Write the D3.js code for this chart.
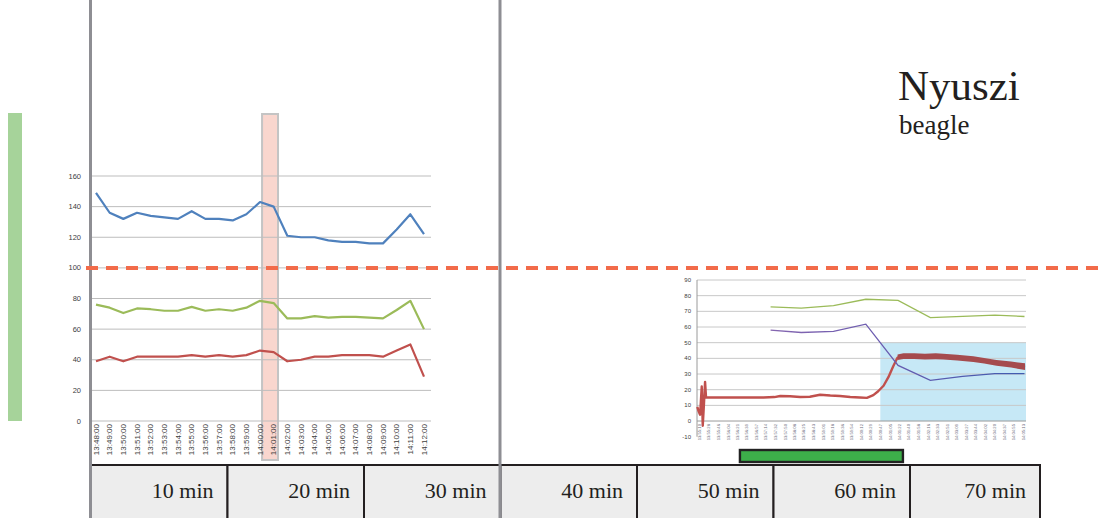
<!DOCTYPE html>
<html><head><meta charset="utf-8">
<script src="https://cdn.jsdelivr.net/npm/d3@7"></script>
<style>html,body{margin:0;padding:0;background:#fff;overflow:hidden}</style>
</head><body><svg id="c" width="1100" height="518"></svg>
<script>
// ---------- Left chart (per-minute values) ----------
const leftTimes = ["13:48:00","13:49:00","13:50:00","13:51:00","13:52:00","13:53:00","13:54:00","13:55:00","13:56:00","13:57:00","13:58:00","13:59:00","14:00:00","14:01:00","14:02:00","14:03:00","14:04:00","14:05:00","14:06:00","14:07:00","14:08:00","14:09:00","14:10:00","14:11:00","14:12:00"];
const leftBlue  = [149,136,132,136,134,133,132,137,132,132,131,135,143,140,121,120,120,118,117,117,116,116,125,135,122];
const leftGreen = [76,74,70.5,73.5,73,72,72,74.5,72,73,72,74,78.5,77,67,67,68.5,67.5,68,68,67.5,67,72.5,78.5,60];
const leftRed   = [39,42,39,42,42,42,42,43,42,43,42,43,46,45,39,40,42,42,43,43,43,42,46,50,29];
const leftYTicks = [0,20,40,60,80,100,120,140,160];
const leftHighlight = ["14:00:09","14:01:19"];
const refLevel = 100;

// ---------- Right chart ----------
const rightLabels = ["13:55:10","13:55:28","13:55:46","13:56:04","13:56:21","13:56:39","13:56:57","13:57:14","13:57:32","13:57:50","13:58:08","13:58:25","13:58:43","13:59:01","13:59:18","13:59:36","13:59:54","14:00:12","14:00:29","14:00:47","14:01:05","14:01:22","14:01:40","14:01:58","14:02:16","14:02:33","14:02:51","14:03:09","14:03:27","14:03:44","14:04:02","14:04:20","14:04:37","14:04:55","14:05:13"];
const rightYTicks = [-10,0,10,20,30,40,50,60,70,80,90];
// continuous trace: seconds after 13:55:10
const redSec = [-3.2,-0.6,1.9,3.3,5,6.9,9,11.2,13,20,40,60,80,100,120,140,151,169,188,206,225,244,262,281,299,312,324,333,343,352,361,369,380,400,420,440,454,480,510,530,553,580,606];
const redVal = [9,6,4,12,22,-3,10,25,15,15,15,15,15,15,15,15.3,16,15.8,15.3,15.5,16.8,16.3,16,15.3,15,14.8,16.5,19,22.5,28,35,40.5,41.5,41.5,41,41.5,41,40.5,39.5,38.5,37,36,34.5];
const bandSec = [369,380,400,420,440,454,480,510,530,553,580,606];
const bandHi  = [42.5,43.3,43.3,43,43.3,43,42.3,41.3,40.3,39,38,36.8];
const bandLo  = [39,39.6,39.6,39.3,39.5,39.2,38.7,37.7,36.7,35.2,34.2,32.5];
// per-minute measurements
const minuteTimes = ["13:57:23","13:58:20","13:59:20","14:00:20","14:01:20","14:02:20","14:03:20","14:04:20","14:05:15"];
const minuteGreen = [72.8,72,73.6,77.7,77,66,66.8,67.6,66.7];
const minutePurple = [58,56.5,57.2,61.8,35.5,26,28.5,30.2,30.3];
const blueZone = {from:"14:00:47", low:0, high:50};
const greenBarSpan = ["13:56:26","14:01:29"];
const rightDomainSec = [-3.8, 607.8];

// ---------- Table ----------
const tableMinutes = [10,20,30,40,50,60,70];
const tableLabels = ["10 min","20 min","30 min","40 min","50 min","60 min","70 min"];
const markerMinutes = [0,30];
const title = "Nyuszi", subtitle = "beagle";

// ================= drawing =================
const svg = d3.select("#c");
const parse = d3.timeParse("%H:%M:%S");
const toSec = s => (parse(s) - parse(rightLabels[0])) / 1000;
const serif = "'Liberation Serif','Times New Roman',serif";
const sans = "'Liberation Sans',Arial,sans-serif";

// left decorative bar
svg.append("rect").attr("x",8).attr("y",113).attr("width",14).attr("height",308).attr("fill","#a6d39a");

// ---- left chart
const xL = d3.scaleTime().domain([parse(leftTimes[0]), parse(leftTimes[leftTimes.length-1])]).range([96,424]);
const yL = d3.scaleLinear().domain([0,160]).range([421,176]);
const gL = svg.append("g");
gL.append("rect")
  .attr("x", xL(parse(leftHighlight[0]))).attr("y",114)
  .attr("width", xL(parse(leftHighlight[1])) - xL(parse(leftHighlight[0]))).attr("height",346)
  .attr("fill","#f9d6ce").attr("stroke","#c4c4c4").attr("stroke-width",2);
gL.append("g").selectAll("line").data(leftYTicks).join("line")
  .attr("x1",90).attr("x2",431).attr("y1",d=>yL(d)).attr("y2",d=>yL(d))
  .attr("stroke","#bdbdbd").attr("stroke-width",1);
gL.append("g").selectAll("text").data(leftYTicks).join("text")
  .attr("x",81).attr("y",d=>yL(d)+2.6).attr("text-anchor","end")
  .attr("font-family",sans).attr("font-size",7.5).attr("fill","#404040").text(d=>d);
gL.append("g").selectAll("text").data(leftTimes).join("text")
  .attr("transform",d=>`translate(${xL(parse(d))+2.8},424) rotate(-90)`)
  .attr("text-anchor","end").attr("font-family",sans).attr("font-size",8).attr("fill","#404040").text(d=>d);
const lineL = d3.line().x((d,i)=>xL(parse(leftTimes[i]))).y(d=>yL(d));
[[leftBlue,"#4f81bd"],[leftGreen,"#9bbb59"],[leftRed,"#c0504d"]].forEach(([s,c])=>{
  gL.append("path").datum(s).attr("d",lineL).attr("fill","none").attr("stroke",c).attr("stroke-width",2.2).attr("stroke-linejoin","round");
});

// ---- right chart
const xR = d3.scaleLinear().domain(rightDomainSec).range([697,1026]);
const yR = d3.scaleLinear().domain([-10,90]).range([436.7,280]);
const gR = svg.append("g");
gR.append("rect")
  .attr("x", xR(toSec(blueZone.from))).attr("y", yR(blueZone.high))
  .attr("width", xR(rightDomainSec[1]) - xR(toSec(blueZone.from)))
  .attr("height", yR(blueZone.low) - yR(blueZone.high)).attr("fill","#c6e8f6");
gR.append("g").selectAll("line").data(rightYTicks.filter(d=>d>=0)).join("line")
  .attr("x1",697).attr("x2",1026).attr("y1",d=>yR(d)).attr("y2",d=>yR(d))
  .attr("stroke",d=>d===0?"#9a9a9a":"#c8c8c8").attr("stroke-width",1);
gR.append("line").attr("x1",697).attr("x2",697).attr("y1",yR(90)).attr("y2",yR(-10)).attr("stroke","#9a9a9a");
gR.append("g").selectAll("text").data(rightYTicks).join("text")
  .attr("x",691).attr("y",d=>yR(d)+2).attr("text-anchor","end")
  .attr("font-family",sans).attr("font-size",6).attr("fill","#404040").text(d=>d);
gR.append("g").selectAll("text").data(rightLabels).join("text")
  .attr("transform",d=>`translate(${xR(toSec(d))+1.5},424) rotate(-90)`)
  .attr("text-anchor","end").attr("font-family",sans).attr("font-size",4.2).attr("fill","#6a6a7a").text(d=>d);
// red trace
gR.append("path").datum(redSec.map((s,i)=>[s,redVal[i]]))
  .attr("d",d3.line().x(d=>xR(d[0])).y(d=>yR(d[1])))
  .attr("fill","none").attr("stroke","#c0504d").attr("stroke-width",2.4).attr("stroke-linejoin","round");
gR.append("path").datum(bandSec.map((s,i)=>[s,bandLo[i],bandHi[i]]))
  .attr("d",d3.area().x(d=>xR(d[0])).y0(d=>yR(d[1])).y1(d=>yR(d[2])))
  .attr("fill","#a54b4e");
// minute lines
const grad = svg.append("defs").append("linearGradient").attr("id","pg").attr("gradientUnits","userSpaceOnUse")
  .attr("x1",xR(toSec(minuteTimes[0]))).attr("x2",xR(toSec(minuteTimes[minuteTimes.length-1]))).attr("y1",0).attr("y2",0);
grad.append("stop").attr("offset","0").attr("stop-color","#8566b0");
grad.append("stop").attr("offset","0.45").attr("stop-color","#6a5cb0");
grad.append("stop").attr("offset","1").attr("stop-color","#3f5cb0");
const lineM = d3.line().x((d,i)=>xR(toSec(minuteTimes[i]))).y(d=>yR(d));
gR.append("path").datum(minuteGreen).attr("d",lineM).attr("fill","none").attr("stroke","#9bbb59").attr("stroke-width",1.3);
gR.append("path").datum(minutePurple).attr("d",lineM).attr("fill","none").attr("stroke","url(#pg)").attr("stroke-width",1.3);
// green bar
svg.append("rect").attr("x",xR(toSec(greenBarSpan[0]))).attr("y",450)
  .attr("width",xR(toSec(greenBarSpan[1]))-xR(toSec(greenBarSpan[0]))).attr("height",12)
  .attr("fill","#3daf4a").attr("stroke","#222").attr("stroke-width",2.4);

// ---- table
const xT = d3.scaleLinear().domain([0,60]).range([91,910]);
const tableRight = 1040;
const cellX0 = m => xT(m-10);
const cellX1 = m => m===70 ? tableRight : xT(m);
const gT = svg.append("g");
gT.selectAll("rect").data(tableMinutes).join("rect")
  .attr("x",cellX0).attr("y",465).attr("width",d=>cellX1(d)-cellX0(d)).attr("height",60)
  .attr("fill","#ededed").attr("stroke","#231f20").attr("stroke-width",2);
gT.selectAll("text").data(tableMinutes).join("text")
  .attr("x",d=>cellX1(d)-14).attr("y",498).attr("text-anchor","end")
  .attr("font-family",serif).attr("font-size",22).attr("fill","#231f20")
  .text((d,i)=>tableLabels[i]);

// grey markers
svg.append("g").selectAll("line").data(markerMinutes).join("line")
  .attr("x1",d=>xT(d)-0.5).attr("x2",d=>xT(d)-0.5).attr("y1",0).attr("y2",518)
  .attr("stroke","#8e8e93").attr("stroke-width",3);

// dashed reference line
svg.append("line").attr("x1",86).attr("x2",1100).attr("y1",yL(refLevel)).attr("y2",yL(refLevel))
  .attr("stroke","#f26b4a").attr("stroke-width",4).attr("stroke-dasharray","12,8");

// titles
svg.append("text").attr("x",898).attr("y",100).attr("font-family",serif).attr("font-size",43).attr("fill","#231f20").text(title);
svg.append("text").attr("x",899).attr("y",134).attr("font-family",serif).attr("font-size",27).attr("fill","#231f20").text(subtitle);
</script></body></html>
